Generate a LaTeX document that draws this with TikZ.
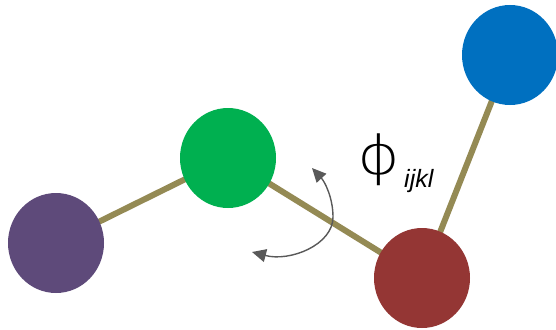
\documentclass[tikz,border=0pt]{standalone}
\usepackage{fontspec}
\setmainfont{Liberation Sans}
\newfontfamily\phifont{DejaVu Sans ExtraLight}
\usetikzlibrary{shapes.geometric,arrows.meta,backgrounds}
\definecolor{atomP}{RGB}{94,74,122}
\definecolor{atomG}{RGB}{0,176,80}
\definecolor{atomR}{RGB}{148,54,52}
\definecolor{atomB}{RGB}{0,112,192}
\definecolor{bondC}{RGB}{148,138,84}
\definecolor{arrC}{RGB}{89,89,89}
\begin{document}
\begin{tikzpicture}[x=1pt,y=-1pt,
  atom/.style={ellipse, inner sep=0pt, minimum width=96pt, minimum height=100pt},
  bond/.style={line width=6pt, draw=bondC},
  rot/.style={line width=1.4pt, draw=arrC, {Triangle[length=14pt,width=13pt,fill=arrC]}-{Triangle[length=14pt,width=13pt,fill=arrC]}}]
\useasboundingbox (0,0) rectangle (556,329);
\node[atom, fill=atomP] (p) at (56,243) {};
\node[atom, fill=atomG] (g) at (228,158) {};
\node[atom, fill=atomR] (r) at (422,278) {};
\node[atom, fill=atomB] (b) at (510,55) {};
\begin{scope}[on background layer]
  \draw[bond] (p.center) -- (g.center);
  \draw[bond] (g.center) -- (r.center);
  \draw[bond] (r.center) -- (b.center);
\end{scope}
\coordinate (a1) at (252,252);
\coordinate (am) at (333,217);
\coordinate (a2) at (312,168);
\draw[rot] (a1) .. controls (290,262) and (333,245) .. (am) .. controls (333,198) and (325,182) .. (a2);
\node[inner sep=0pt, font=\phifont\fontsize{54}{54}\selectfont] (phi) at (379,160) {\scalebox{1.2}[1]{ϕ}};
\node[anchor=base west, inner sep=0pt, font=\itshape\fontsize{25}{25}\selectfont] (sub) at (404,187) {ijkl};
\end{tikzpicture}
\end{document}
